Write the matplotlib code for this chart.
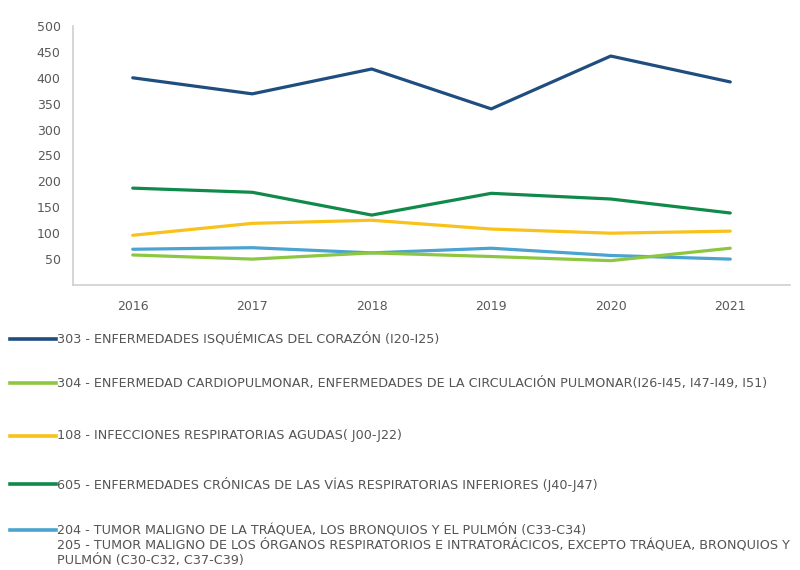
import matplotlib
matplotlib.use("Agg")
import matplotlib.pyplot as plt
from matplotlib.lines import Line2D

years = ["2016", "2017", "2018", "2019", "2020", "2021"]
isquemicas_303 = [400, 369, 417, 340, 442, 392]
cardiopulmonar_304 = [58, 50, 62, 55, 47, 71]
infecciones_108 = [96, 119, 125, 108, 100, 104]
cronicas_605 = [187, 179, 135, 177, 166, 139]
tumor_204_205 = [69, 72, 62, 71, 57, 50]

labels = [
    "303 - ENFERMEDADES ISQUÉMICAS DEL CORAZÓN (I20-I25)",
    "304 - ENFERMEDAD CARDIOPULMONAR, ENFERMEDADES DE LA CIRCULACIÓN PULMONAR(I26-I45, I47-I49, I51)",
    "108 - INFECCIONES RESPIRATORIAS AGUDAS( J00-J22)",
    "605 - ENFERMEDADES CRÓNICAS DE LAS VÍAS RESPIRATORIAS INFERIORES (J40-J47)",
    "204 - TUMOR MALIGNO DE LA TRÁQUEA, LOS BRONQUIOS Y EL PULMÓN (C33-C34)\n"
    "205 - TUMOR MALIGNO DE LOS ÓRGANOS RESPIRATORIOS E INTRATORÁCICOS, EXCEPTO TRÁQUEA, BRONQUIOS Y\n"
    "PULMÓN (C30-C32, C37-C39)",
]
series = [isquemicas_303, cardiopulmonar_304, infecciones_108, cronicas_605, tumor_204_205]
colors = ["#1f4e7e", "#8dc641", "#f8c21a", "#0f8a4a", "#4aa3d0"]
yticks = [50, 100, 150, 200, 250, 300, 350, 400, 450, 500]

W, H = 800, 570
fig = plt.figure(figsize=(8, 5.7), dpi=100)
ax = fig.add_axes([73 / W, 1 - 285 / H, (790 - 73) / W, (285 - 26) / H])

x = list(range(len(years)))
order = [4, 1, 2, 3, 0]
for i in order:
    ax.plot(x, series[i], color=colors[i], lw=2.3, solid_capstyle="round", zorder=3 + (i == 0))

ax.set_xlim(-0.5, len(years) - 0.5)
ax.set_ylim(0, 500)
ax.set_xticks(x)
ax.set_xticklabels(years)
ax.set_yticks(yticks)
ax.set_yticklabels([str(v) for v in yticks])
ax.tick_params(length=0, labelsize=9, colors="#595959")
ax.tick_params(axis="x", pad=11)
ax.tick_params(axis="y", pad=9)
for s in ["top", "right"]:
    ax.spines[s].set_visible(False)
for s in ["left", "bottom"]:
    ax.spines[s].set_color("#d0d0d0")
    ax.spines[s].set_linewidth(1.2)

# manual legend below plot
ys = [339, 383, 436, 484, 530]
for i, yp in enumerate(ys):
    yf = 1 - yp / H
    fig.add_artist(Line2D([10 / W, 56 / W], [yf, yf], transform=fig.transFigure,
                          color=colors[i], lw=2.6))
    if "\n" in labels[i]:
        fig.text(57 / W, yf + 7 / H, labels[i], ha="left", va="top", fontsize=9.2,
                 color="#555555", linespacing=1.18)
    else:
        fig.text(57 / W, yf, labels[i], ha="left", va="center", fontsize=9.2, color="#555555")

fig.savefig("out.png", dpi=100)
